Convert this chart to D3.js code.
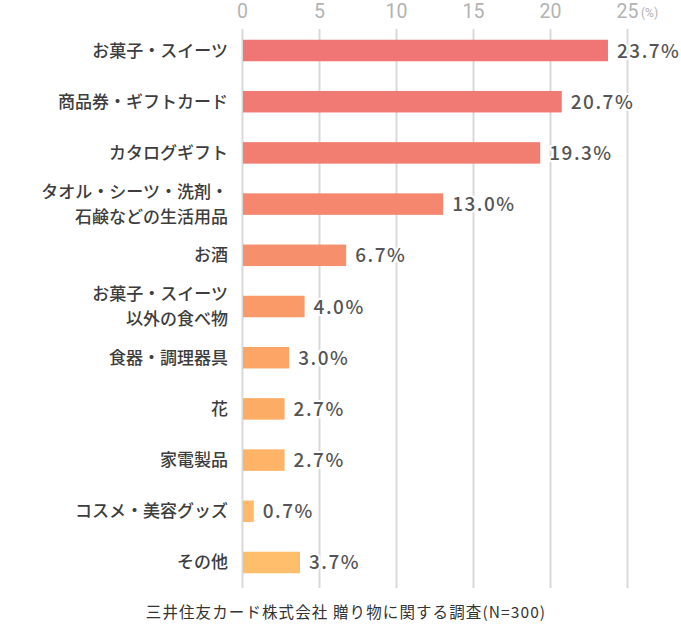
<!DOCTYPE html>
<html><head><meta charset="utf-8">
<script src="https://cdn.jsdelivr.net/npm/d3@7"></script>
<style>
html,body{margin:0;padding:0;background:#fff;}
text{font-family:"Noto Sans CJK JP","Noto Sans",sans-serif;}
</style></head>
<body>
<svg id="c" width="681" height="629"></svg>
<script>
const categories = [
  ["お菓子・スイーツ"],
  ["商品券・ギフトカード"],
  ["カタログギフト"],
  ["タオル・シーツ・洗剤・","石鹸などの生活用品"],
  ["お酒"],
  ["お菓子・スイーツ","以外の食べ物"],
  ["食器・調理器具"],
  ["花"],
  ["家電製品"],
  ["コスメ・美容グッズ"],
  ["その他"]
];
const values = [23.7, 20.7, 19.3, 13.0, 6.7, 4.0, 3.0, 2.7, 2.7, 0.7, 3.7];
const colors = ["#f07676","#f17a74","#f27e72","#f4876e","#f68f6b","#f99a68","#fca567","#fdac66","#feb367","#ffb96a","#ffbe6b"];
const tickValues = [0, 5, 10, 15, 20, 25];
const sourceText = "三井住友カード株式会社 贈り物に関する調査(N=300)";

const svg = d3.select("#c");
const x = d3.scaleLinear().domain([0, 25]).range([243, 628]);
const y = d3.scaleBand().domain(d3.range(values.length)).range([29, 584]).paddingInner(0.58).paddingOuter(0.21);

// gridlines
svg.append("g").selectAll("line").data(tickValues).join("line")
  .attr("x1", d => x(d) - 0.5).attr("x2", d => x(d) - 0.5)
  .attr("y1", 29).attr("y2", 588)
  .attr("stroke", "#d9d9d9").attr("stroke-width", 2);

// tick labels
svg.append("g").selectAll("text").data(tickValues).join("text")
  .attr("x", d => x(d) - 0.5).attr("y", 18)
  .attr("text-anchor", "middle")
  .style("font-family", "Roboto, 'Noto Sans', sans-serif")
  .attr("font-size", 19.5).attr("fill", "#b3b3b3")
  .text(d => d);
svg.append("text").attr("x", x(25) + 13).attr("y", 17)
  .style("font-family", "Roboto, 'Noto Sans', sans-serif")
  .attr("font-size", 12).attr("fill", "#b3b3b3").text("(%)");

// bars
svg.append("g").selectAll("rect").data(values).join("rect")
  .attr("x", x(0)).attr("y", (d, i) => y(i))
  .attr("width", d => x(d) - x(0)).attr("height", y.bandwidth())
  .attr("fill", (d, i) => colors[i]);

// value labels
svg.append("g").selectAll("text").data(values).join("text")
  .attr("x", d => x(d) + 9).attr("y", (d, i) => y(i) + y.bandwidth() / 2 + 7)
  .attr("font-size", 19).attr("font-weight", 500).attr("fill", "#555")
  .attr("stroke", "#fff").attr("stroke-width", 4).attr("paint-order", "stroke")
  .attr("letter-spacing", 1.5)
  .text(d => d.toFixed(1) + "%");

// category labels
const cg = svg.append("g");
categories.forEach((lines, i) => {
  const cy = y(i) + y.bandwidth() / 2;
  const lh = 25;
  const t = cg.append("text").attr("text-anchor", "end")
    .attr("font-size", 17).attr("font-weight", 500).attr("fill", "#3d3d3d");
  lines.forEach((s, j) => {
    t.append("tspan").attr("x", 228)
      .attr("y", cy + 6 + (j - (lines.length - 1) / 2) * lh)
      .text(s);
  });
});

// source
svg.append("text").attr("x", 346).attr("y", 618).attr("text-anchor", "middle")
  .attr("font-size", 15.5).attr("letter-spacing", 1.1).attr("fill", "#333").text(sourceText);
</script>
</body></html>
